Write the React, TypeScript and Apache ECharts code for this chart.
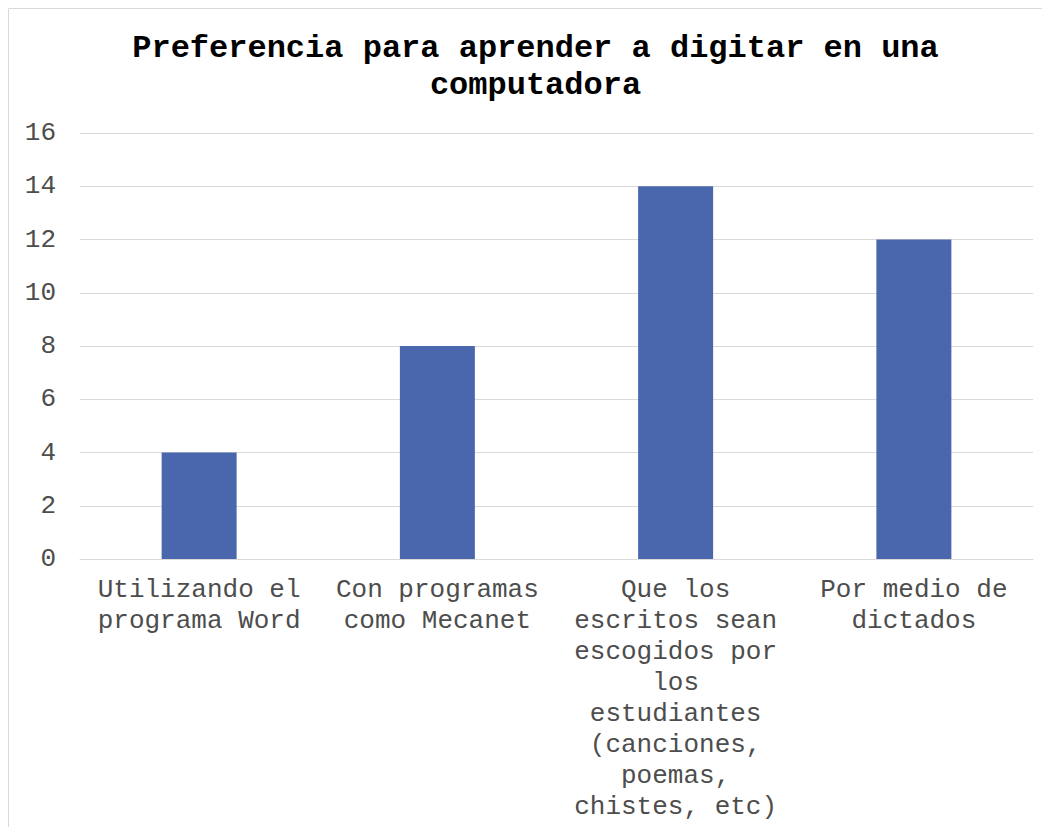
import React, { useEffect, useRef } from "react";
import * as echarts from "echarts";

const titleText = "Preferencia para aprender a digitar en una\ncomputadora";
const categories = [
  "Utilizando el\nprograma Word",
  "Con programas\ncomo Mecanet",
  "Que los\nescritos sean\nescogidos por\nlos\nestudiantes\n(canciones,\npoemas,\nchistes, etc)",
  "Por medio de\ndictados",
];
const values = [4, 8, 14, 12];
const yTicks = { min: 0, max: 16, interval: 2 };

export default function App() {
  const ref = useRef<HTMLDivElement>(null);
  useEffect(() => {
    document.body.style.overflow = "hidden";
    const chart = echarts.init(ref.current!, undefined, { renderer: "svg" });
    const font = "'Liberation Mono', 'Courier New', monospace";
    chart.setOption({
      animation: false,
      backgroundColor: "#ffffff",
      title: {
        text: titleText,
        left: "center",
        top: 22,
        padding: 0,
        textStyle: {
          fontFamily: font,
          fontWeight: "bold",
          fontSize: 32,
          lineHeight: 37,
          color: "#000000",
        },
      },
      graphic: [
        {
          type: "rect",
          shape: { x: 0.5, y: 0.5, width: 1054, height: 829 },
          style: { fill: "none", stroke: "#d9d9d9", lineWidth: 1 },
          silent: true,
        },
      ],
      grid: { left: 72, right: 30, top: 125, height: 426, containLabel: false },
      xAxis: {
        type: "category",
        data: categories,
        axisTick: { show: false },
        axisLine: { show: true, lineStyle: { color: "#d9d9d9", width: 1 } },
        axisLabel: {
          interval: 0,
          margin: 15,
          fontFamily: font,
          fontSize: 26,
          lineHeight: 31,
          color: "#4d4d4d",
          align: "center",
        },
      },
      yAxis: {
        type: "value",
        min: yTicks.min,
        max: yTicks.max,
        interval: yTicks.interval,
        axisLine: { show: false },
        axisTick: { show: false },
        splitLine: { lineStyle: { color: "#d9d9d9", width: 1 } },
        axisLabel: {
          margin: 24,
          fontFamily: font,
          fontSize: 26,
          color: "#4d4d4d",
        },
      },
      series: [
        {
          type: "bar",
          data: values,
          barWidth: 75,
          itemStyle: { color: "#4a67ad" },
        },
      ],
    });
    return () => chart.dispose();
  }, []);
  return (
    <div style={{ width: 1042, height: 819, overflow: "hidden", position: "relative" }}>
      <div ref={ref} style={{ width: 1055, height: 830 }} />
    </div>
  );
}
